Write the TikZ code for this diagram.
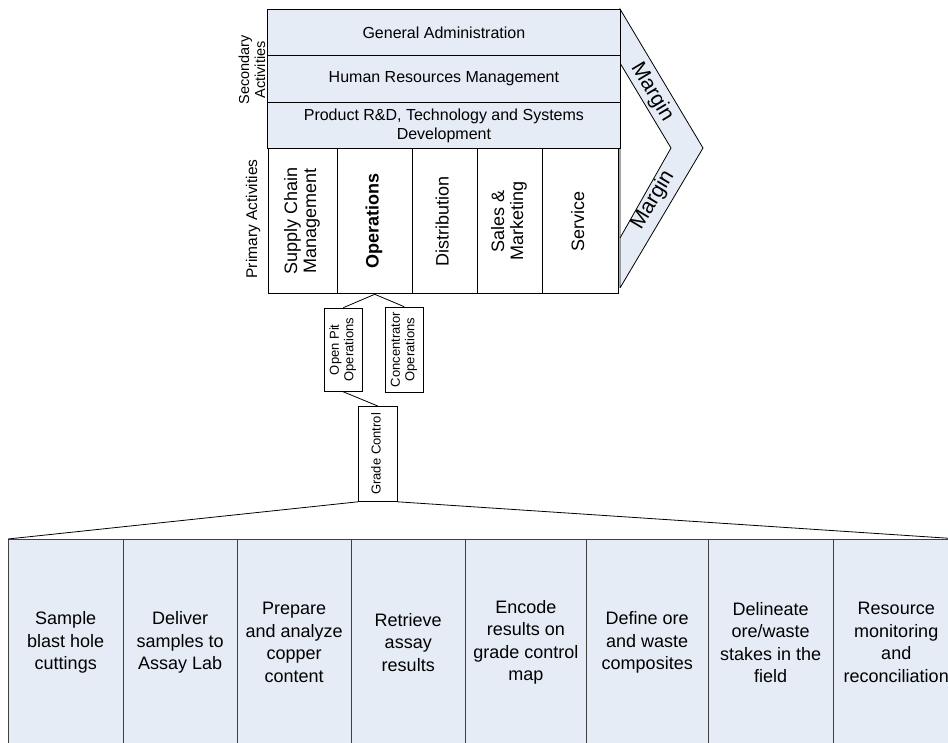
\documentclass[tikz,border=0pt]{standalone}
\usepackage{fontspec}
\setmainfont{Liberation Sans}
\usepackage{graphicx}
\definecolor{vcfill}{RGB}{229,236,246}
\newcommand{\rotlines}[1]{\rotatebox{90}{\begin{tabular}{@{}c@{}}#1\end{tabular}}}
\tikzset{
  box/.style={draw, line width=0.8pt, inner sep=0pt, align=center},
  sec/.style={box, fill=vcfill, minimum width=353pt, minimum height=46.5pt, anchor=north west, font=\fontsize{16}{18.5}\selectfont},
  prim/.style={box, fill=white, minimum height=145pt, anchor=north west, font=\fontsize{18}{19}\selectfont},
  smallbox/.style={box, fill=white, anchor=north west, font=\fontsize{13}{14.5}\selectfont},
  task/.style={box, draw=black!75, fill=vcfill, minimum height=206pt, anchor=north west, font=\fontsize{18}{22.5}\selectfont},
  sidelabel/.style={inner sep=0pt, align=center, rotate=90},
  marginlabel/.style={inner sep=0pt, font=\fontsize{21}{24}\selectfont},
  conn/.style={line width=0.8pt},
}
\begin{document}
\begin{tikzpicture}[x=1pt,y=-1pt]
\useasboundingbox (0,0) rectangle (948,743);
\clip (0,0) rectangle (948,743);

% margin chevron
\coordinate (cA) at (620,9);
\coordinate (cB) at (703,148);
\coordinate (cC) at (620,288);
\coordinate (cD) at (620,238);
\coordinate (cE) at (671,148);
\coordinate (cF) at (620,63);
\fill[vcfill] (cA) -- (cB) -- (cC) -- (cD) -- (cE) -- (cF) -- cycle;
\draw[conn] (cC) -- (cA) -- (cB) -- (cC);
\draw[conn] (cF) -- (cE) -- (cD);
\node[marginlabel, rotate=-59] (m1) at (652,92) {Margin};
\node[marginlabel, rotate=59] (m2) at (653,200) {Margin};

% secondary activities
\node[sec] (ga) at (267,9) {General Administration};
\node[sec] (hrm) at (267,55.5) {Human Resources Management};
\node[sec] (rd) at (267,102) {Product R\&D, Technology and Systems\\Development};
\node[sidelabel, font=\fontsize{14.5}{16}\selectfont] (seclab) at (252,70) {Secondary\\Activities};

% primary activities
\node[prim, minimum width=68.7pt] (scm) at (268,148.5) {\rotlines{Supply Chain\\Management}};
\node[prim, minimum width=75.3pt] (ops) at (336.7,148.5) {\rotlines{\bfseries Operations}};
\node[prim, minimum width=65pt] (dist) at (412,148.5) {\rotlines{Distribution}};
\node[prim, minimum width=64.7pt] (sales) at (477,148.5) {\rotlines{Sales \&\\Marketing}};
\node[prim, minimum width=76.3pt] (serv) at (541.7,148.5) {\rotlines{Service}};
\node[sidelabel, font=\fontsize{15.5}{17}\selectfont] (primlab) at (253,219) {Primary Activities};

% sub-operations
\node[smallbox, minimum width=37.7pt, minimum height=83.3pt] (opit) at (324,307.7) {\rotlines{Open Pit\\Operations}};
\node[smallbox, minimum width=37.7pt, minimum height=85.3pt] (conc) at (385,306.7) {\rotlines{Concentrator\\Operations}};
\node[smallbox, minimum width=38.7pt, minimum height=95pt] (gc) at (358,406) {\rotlines{Grade Control}};

% grade control tasks
\node[task, minimum width=114.7pt] (t1) at (8,539) {Sample\\blast hole\\cuttings};
\node[task, minimum width=114pt] (t2) at (122.7,539) {Deliver\\samples to\\Assay Lab};
\node[task, minimum width=114pt] (t3) at (236.7,539) {Prepare\\and analyze\\copper\\content};
\node[task, minimum width=114.3pt] (t4) at (350.7,539) {Retrieve\\assay\\results};
\node[task, minimum width=121pt] (t5) at (465,539) {Encode\\results on\\grade control\\map};
\node[task, minimum width=121.7pt] (t6) at (586,539) {Define ore\\and waste\\composites};
\node[task, minimum width=125pt] (t7) at (707.7,539) {Delineate\\ore/waste\\stakes in the\\field};
\node[task, minimum width=126.3pt] (t8) at (832.7,539) {Resource\\monitoring\\and\\reconciliation};

% connectors
\draw[conn] (ops.south) -- (opit.north);
\draw[conn] (ops.south) -- (conc.north);
\draw[conn] (opit.south) -- (gc.north);
\draw[conn] (gc.south west) -- (t1.north west);
\draw[conn] (gc.south east) -- (t8.north east);
\end{tikzpicture}
\end{document}
